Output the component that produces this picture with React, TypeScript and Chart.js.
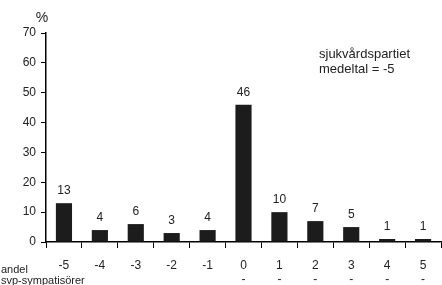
import React, { useEffect, useRef } from "react";
import { Chart, registerables } from "chart.js";
Chart.register(...registerables);

const categories = ["-5", "-4", "-3", "-2", "-1", "0", "1", "2", "3", "4", "5"];
const subLabels = ["", "", "", "", "", "-", "-", "-", "-", "-", "-"];
const values = [13, 4, 6, 3, 4, 46, 10, 7, 5, 1, 1];
const yTicks = [0, 10, 20, 30, 40, 50, 60, 70];
const noteLines = ["sjukvårdspartiet", "medeltal = -5"];
const axisNote = ["andel", "svp-sympatisörer"];
const unitLabel = "%";

const FONT = "'Liberation Sans', Arial, sans-serif";

export default function App() {
  const ref = useRef<HTMLCanvasElement>(null);
  useEffect(() => {
    document.body.style.margin = "0";
    const textPlugin = {
      id: "texts",
      afterDatasetsDraw(chart: any) {
        const ctx = chart.ctx;
        const meta = chart.getDatasetMeta(0);
        ctx.save();
        ctx.fillStyle = "#222";
        ctx.font = `12px ${FONT}`;
        ctx.textAlign = "center";
        ctx.textBaseline = "alphabetic";
        meta.data.forEach((bar: any, i: number) => {
          ctx.fillText(String(values[i]), bar.x, bar.y - 9);
        });
        ctx.textAlign = "left";
        ctx.font = `13px ${FONT}`;
        noteLines.forEach((t, i) => ctx.fillText(t, 319, 58 + i * 15));
        ctx.font = `11px ${FONT}`;
        axisNote.forEach((t, i) => ctx.fillText(t, 1, 273 + i * 11));
        ctx.font = `14px ${FONT}`;
        ctx.textAlign = "center";
        ctx.fillText(unitLabel, 42, 22);
        ctx.restore();
      },
    };
    const chart = new Chart(ref.current!, {
      type: "bar",
      data: {
        labels: categories.map((c, i) => [c, subLabels[i]]),
        datasets: [
          {
            data: values,
            backgroundColor: "#1c1c1c",
            borderWidth: 0,
            barPercentage: 0.45,
            categoryPercentage: 1,
          },
        ],
      },
      options: {
        responsive: false,
        animation: false,
        layout: { padding: { left: 0, right: 1, top: 33, bottom: 0 } },
        plugins: { legend: { display: false }, tooltip: { enabled: false } },
        scales: {
          x: {
            grid: {
              display: true,
              drawOnChartArea: false,
              drawTicks: true,
              tickLength: 6,
              color: "#000",
              offset: true,
            },
            border: { display: true, color: "#000", width: 1.5 },
            ticks: {
              color: "#222",
              font: { family: FONT, size: 12, lineHeight: 1.2 },
              padding: 10,
              maxRotation: 0,
              autoSkip: false,
            },
            afterFit(scale: any) {
              scale.height = 43;
            },
          },
          y: {
            min: 0,
            max: 70,
            afterBuildTicks(scale: any) {
              scale.ticks = yTicks.map((v) => ({ value: v }));
            },
            grid: {
              display: true,
              drawOnChartArea: false,
              drawTicks: true,
              tickLength: 5,
              color: "#000",
            },
            border: { display: true, color: "#000", width: 1.5 },
            ticks: {
              color: "#222",
              font: { family: FONT, size: 12 },
              padding: 5,
            },
            afterFit(scale: any) {
              scale.width = 46;
            },
          },
        },
      },
      plugins: [textPlugin],
    });
    return () => chart.destroy();
  }, []);
  return (
    <div style={{ width: 442, height: 285 }}>
      <canvas ref={ref} width={442} height={285} style={{ display: "block" }} />
    </div>
  );
}
